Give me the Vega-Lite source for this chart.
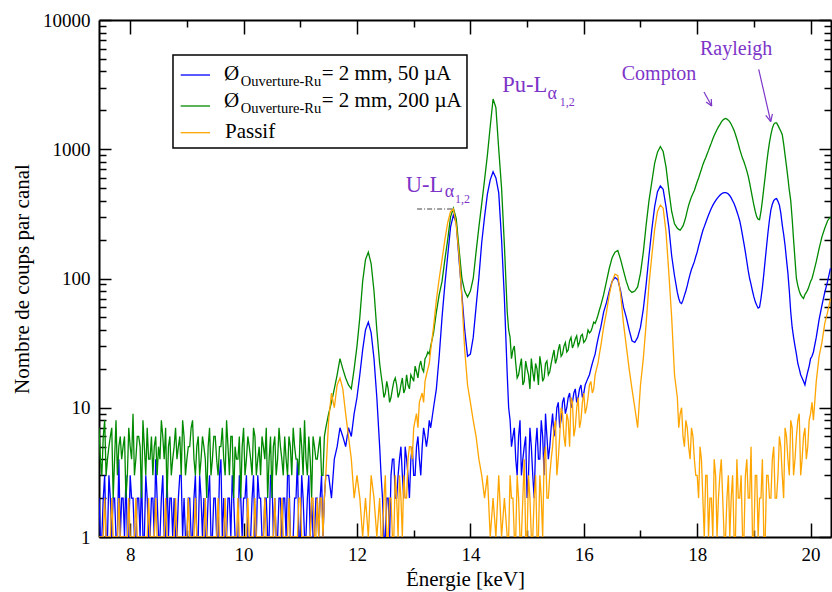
{
  "$schema": "https://vega.github.io/schema/vega-lite/v6.json",
  "width": 732,
  "height": 517,
  "autosize": {"type": "none"},
  "padding": {"left": 99, "top": 20, "right": 1, "bottom": 55},
  "background": "white",
  "config": {
    "view": {"stroke": null},
    "font": "Liberation Serif, Times New Roman, serif",
    "text": {"font": "Liberation Serif, Times New Roman, serif"},
    "axis": {
      "grid": false,
      "domainColor": "black",
      "domainWidth": 2,
      "tickColor": "black",
      "tickWidth": 1.5,
      "labelFont": "Liberation Serif, Times New Roman, serif",
      "labelFontSize": 19,
      "labelColor": "black",
      "labelOverlap": false,
      "labelFlush": false,
      "titleFont": "Liberation Serif, Times New Roman, serif",
      "titleFontSize": 21,
      "titleFontWeight": "normal",
      "titleColor": "black"
    }
  },
  "datasets": {
    "spec": [
      {"e":7.45,"b":2,"g":7,"o":1},{"e":7.50,"b":1,"g":3,"o":1},{"e":7.55,"b":3,"g":8,"o":2},{"e":7.60,"b":1,"g":4,"o":1},{"e":7.65,"b":2,"g":6,"o":1},
      {"e":7.70,"b":2,"g":2,"o":1},{"e":7.75,"b":1,"g":8,"o":1},{"e":7.80,"b":4,"g":5,"o":2},{"e":7.85,"b":2,"g":4,"o":1},{"e":7.90,"b":1,"g":6,"o":1},
      {"e":7.95,"b":1,"g":3,"o":1},{"e":8.00,"b":3,"g":5,"o":1},{"e":8.05,"b":2,"g":9,"o":1},{"e":8.10,"b":1,"g":4,"o":2},{"e":8.15,"b":2,"g":6,"o":1},
      {"e":8.20,"b":3,"g":2,"o":1},{"e":8.25,"b":1,"g":5,"o":1},{"e":8.30,"b":2,"g":7,"o":1},{"e":8.35,"b":1,"g":4,"o":1},{"e":8.40,"b":2,"g":3,"o":1},
      {"e":8.45,"b":4,"g":6,"o":2},{"e":8.50,"b":1,"g":5,"o":1},{"e":8.55,"b":2,"g":8,"o":1},{"e":8.60,"b":1,"g":4,"o":1},{"e":8.65,"b":3,"g":2,"o":1},
      {"e":8.70,"b":2,"g":6,"o":1},{"e":8.75,"b":1,"g":4,"o":1},{"e":8.80,"b":1,"g":7,"o":2},{"e":8.85,"b":2,"g":5,"o":1},{"e":8.90,"b":3,"g":3,"o":1},
      {"e":8.95,"b":2,"g":6,"o":1},{"e":9.00,"b":1,"g":4,"o":1},{"e":9.05,"b":2,"g":5,"o":1},{"e":9.10,"b":1,"g":8,"o":1},{"e":9.15,"b":3,"g":3,"o":2},
      {"e":9.20,"b":1,"g":6,"o":1},{"e":9.25,"b":2,"g":4,"o":1},{"e":9.30,"b":2,"g":5,"o":1},{"e":9.35,"b":1,"g":2,"o":1},{"e":9.40,"b":3,"g":7,"o":1},
      {"e":9.45,"b":1,"g":4,"o":1},{"e":9.50,"b":2,"g":6,"o":1},{"e":9.55,"b":1,"g":3,"o":2},{"e":9.60,"b":4,"g":5,"o":1},{"e":9.65,"b":2,"g":4,"o":1},
      {"e":9.70,"b":1,"g":8,"o":1},{"e":9.75,"b":2,"g":3,"o":1},{"e":9.80,"b":3,"g":6,"o":1},{"e":9.85,"b":1,"g":5,"o":1},{"e":9.90,"b":1,"g":4,"o":2},
      {"e":9.95,"b":2,"g":2,"o":1},{"e":10.00,"b":2,"g":7,"o":1},{"e":10.05,"b":3,"g":4,"o":1},{"e":10.10,"b":1,"g":5,"o":1},{"e":10.15,"b":2,"g":3,"o":1},
      {"e":10.20,"b":1,"g":6,"o":2},{"e":10.25,"b":3,"g":4,"o":1},{"e":10.30,"b":2,"g":3,"o":1},{"e":10.35,"b":1,"g":5,"o":1},{"e":10.40,"b":2,"g":7,"o":1},
      {"e":10.45,"b":1,"g":4,"o":1},{"e":10.50,"b":3,"g":2,"o":1},{"e":10.55,"b":2,"g":6,"o":2},{"e":10.60,"b":1,"g":4,"o":1},{"e":10.65,"b":2,"g":5,"o":1},
      {"e":10.70,"b":2,"g":3,"o":1},{"e":10.75,"b":1,"g":4,"o":1},{"e":10.80,"b":3,"g":6,"o":2},{"e":10.85,"b":1,"g":3,"o":1},{"e":10.90,"b":2,"g":5,"o":1},
      {"e":10.95,"b":4,"g":4,"o":1},{"e":11.00,"b":1,"g":7,"o":2},{"e":11.05,"b":2,"g":3,"o":1},{"e":11.10,"b":1,"g":4,"o":1},{"e":11.15,"b":3,"g":6,"o":1},
      {"e":11.20,"b":2,"g":2,"o":2},{"e":11.25,"b":1,"g":5,"o":1},{"e":11.30,"b":2,"g":4,"o":2},{"e":11.35,"b":2,"g":6,"o":2},{"e":11.40,"b":1,"g":3,"o":1},
      {"e":11.45,"b":3,"g":7,"o":3},
      {"e":11.50,"b":3,"g":9,"o":8},{"e":11.55,"b":2,"g":11,"o":13},{"e":11.60,"b":4,"g":14,"o":10},{"e":11.65,"b":5,"g":18,"o":15},{"e":11.70,"b":7,"g":24,"o":17},
      {"e":11.75,"b":6,"g":20,"o":14},{"e":11.80,"b":5,"g":17,"o":9},{"e":11.85,"b":7,"g":15,"o":6},{"e":11.90,"b":6,"g":14,"o":4},{"e":11.95,"b":9,"g":20,"o":2},
      {"e":12.00,"b":12,"g":30,"o":3},{"e":12.05,"b":18,"g":50,"o":2},{"e":12.10,"b":28,"g":95,"o":1},{"e":12.15,"b":40,"g":140,"o":2},{"e":12.20,"b":46,"g":160,"o":1},
      {"e":12.25,"b":38,"g":130,"o":3},{"e":12.30,"b":24,"g":80,"o":2},{"e":12.35,"b":12,"g":40,"o":1},{"e":12.40,"b":5,"g":22,"o":2},{"e":12.45,"b":2,"g":15,"o":1},
      {"e":12.50,"b":1,"g":13,"o":3},{"e":12.55,"b":2,"g":14,"o":1},{"e":12.60,"b":3,"g":12,"o":2},{"e":12.65,"b":4,"g":16,"o":1},{"e":12.70,"b":2,"g":15,"o":2},
      {"e":12.75,"b":4,"g":13,"o":3},{"e":12.80,"b":3,"g":17,"o":1},{"e":12.85,"b":5,"g":14,"o":2},{"e":12.90,"b":3,"g":15,"o":4},{"e":12.95,"b":4,"g":18,"o":5},
      {"e":13.00,"b":3,"g":16,"o":7},{"e":13.05,"b":5,"g":19,"o":9},{"e":13.10,"b":4,"g":21,"o":11},{"e":13.15,"b":5,"g":20,"o":13},{"e":13.20,"b":6,"g":24,"o":16},
      {"e":13.25,"b":6,"g":27,"o":20},{"e":13.30,"b":7,"g":30,"o":28},{"e":13.35,"b":10,"g":38,"o":42},{"e":13.40,"b":14,"g":55,"o":68},{"e":13.45,"b":25,"g":75,"o":100},
      {"e":13.50,"b":50,"g":95,"o":140},{"e":13.55,"b":90,"g":140,"o":200},{"e":13.60,"b":150,"g":200,"o":270},{"e":13.65,"b":250,"g":300,"o":330},{"e":13.70,"b":310,"g":350,"o":345},
      {"e":13.75,"b":270,"g":290,"o":260},{"e":13.80,"b":140,"g":170,"o":150},{"e":13.85,"b":75,"g":100,"o":70},{"e":13.90,"b":40,"g":80,"o":28},{"e":13.95,"b":25,"g":72,"o":15},
      {"e":14.00,"b":26,"g":80,"o":11},{"e":14.05,"b":35,"g":100,"o":8},{"e":14.10,"b":60,"g":160,"o":6},{"e":14.15,"b":102,"g":250,"o":4},{"e":14.20,"b":190,"g":380,"o":3},
      {"e":14.25,"b":300,"g":580,"o":2},{"e":14.30,"b":450,"g":900,"o":3},{"e":14.35,"b":580,"g":1500,"o":1},{"e":14.40,"b":670,"g":2450,"o":2},{"e":14.45,"b":600,"g":2100,"o":1},
      {"e":14.50,"b":460,"g":1000,"o":3},{"e":14.55,"b":200,"g":500,"o":1},{"e":14.60,"b":70,"g":180,"o":2},{"e":14.65,"b":18,"g":55,"o":1},{"e":14.70,"b":8,"g":35,"o":3},
      {"e":14.75,"b":6,"g":28,"o":2},{"e":14.80,"b":4,"g":22,"o":1},{"e":14.85,"b":6,"g":18,"o":2},{"e":14.90,"b":3,"g":24,"o":1},{"e":14.95,"b":5,"g":16,"o":4},
      {"e":15.00,"b":2,"g":20,"o":1},{"e":15.05,"b":7,"g":14,"o":2},{"e":15.10,"b":3,"g":19,"o":1},{"e":15.15,"b":5,"g":22,"o":3},{"e":15.20,"b":4,"g":15,"o":1},
      {"e":15.25,"b":8,"g":21,"o":2},{"e":15.30,"b":3,"g":17,"o":4},{"e":15.35,"b":6,"g":23,"o":2},{"e":15.40,"b":5,"g":19,"o":3},{"e":15.45,"b":9,"g":25,"o":5},
      {"e":15.50,"b":7,"g":22,"o":8},{"e":15.55,"b":11,"g":28,"o":4},{"e":15.60,"b":8,"g":25,"o":10},{"e":15.65,"b":12,"g":30,"o":6},{"e":15.70,"b":10,"g":27,"o":9},
      {"e":15.75,"b":13,"g":33,"o":5},{"e":15.80,"b":11,"g":29,"o":11},{"e":15.85,"b":14,"g":34,"o":7},{"e":15.90,"b":12,"g":30,"o":12},{"e":15.95,"b":15,"g":36,"o":8},
      {"e":16.00,"b":13,"g":32,"o":13},{"e":16.05,"b":16,"g":35,"o":10},{"e":16.10,"b":18,"g":38,"o":15},{"e":16.15,"b":22,"g":42,"o":13},{"e":16.20,"b":26,"g":45,"o":18},
      {"e":16.25,"b":34,"g":52,"o":22},{"e":16.30,"b":42,"g":62,"o":30},{"e":16.35,"b":55,"g":75,"o":42},{"e":16.40,"b":65,"g":95,"o":55},{"e":16.45,"b":80,"g":120,"o":75},
      {"e":16.50,"b":95,"g":145,"o":95},{"e":16.55,"b":102,"g":160,"o":108},{"e":16.60,"b":98,"g":165,"o":105},{"e":16.65,"b":80,"g":140,"o":75},{"e":16.70,"b":60,"g":115,"o":45},
      {"e":16.75,"b":50,"g":95,"o":30},{"e":16.80,"b":40,"g":82,"o":20},{"e":16.85,"b":33,"g":78,"o":14},{"e":16.90,"b":32,"g":80,"o":10},{"e":16.95,"b":35,"g":86,"o":7},
      {"e":17.00,"b":42,"g":110,"o":15},{"e":17.05,"b":58,"g":160,"o":24},{"e":17.10,"b":90,"g":260,"o":45},{"e":17.15,"b":150,"g":400,"o":90},{"e":17.20,"b":240,"g":560,"o":150},
      {"e":17.25,"b":360,"g":780,"o":240},{"e":17.30,"b":470,"g":950,"o":330},{"e":17.35,"b":520,"g":1050,"o":370},{"e":17.40,"b":490,"g":960,"o":350},{"e":17.45,"b":360,"g":730,"o":230},
      {"e":17.50,"b":250,"g":480,"o":110},{"e":17.55,"b":150,"g":330,"o":50},{"e":17.60,"b":105,"g":265,"o":18},{"e":17.65,"b":78,"g":245,"o":12},{"e":17.70,"b":65,"g":237,"o":9},
      {"e":17.75,"b":68,"g":255,"o":6},{"e":17.80,"b":80,"g":300,"o":8},{"e":17.85,"b":98,"g":370,"o":5},{"e":17.90,"b":118,"g":430,"o":7},{"e":17.95,"b":135,"g":480,"o":4},
      {"e":18.00,"b":160,"g":560,"o":3},{"e":18.05,"b":195,"g":650,"o":5},{"e":18.10,"b":235,"g":760,"o":2},{"e":18.15,"b":270,"g":860,"o":3},{"e":18.20,"b":310,"g":980,"o":1},
      {"e":18.25,"b":350,"g":1120,"o":2},{"e":18.30,"b":385,"g":1280,"o":4},{"e":18.35,"b":415,"g":1420,"o":1},{"e":18.40,"b":440,"g":1550,"o":3},{"e":18.45,"b":458,"g":1680,"o":2},
      {"e":18.50,"b":462,"g":1730,"o":1},{"e":18.55,"b":450,"g":1680,"o":3},{"e":18.60,"b":420,"g":1560,"o":2},{"e":18.65,"b":380,"g":1400,"o":1},{"e":18.70,"b":330,"g":1200,"o":4},
      {"e":18.75,"b":280,"g":1000,"o":2},{"e":18.80,"b":215,"g":850,"o":1},{"e":18.85,"b":160,"g":740,"o":3},{"e":18.90,"b":115,"g":620,"o":2},{"e":18.95,"b":90,"g":480,"o":5},
      {"e":19.00,"b":72,"g":370,"o":1},{"e":19.05,"b":62,"g":300,"o":3},{"e":19.10,"b":60,"g":285,"o":2},{"e":19.15,"b":85,"g":400,"o":4},{"e":19.20,"b":140,"g":620,"o":1},
      {"e":19.25,"b":230,"g":950,"o":3},{"e":19.30,"b":340,"g":1300,"o":2},{"e":19.35,"b":400,"g":1560,"o":5},{"e":19.40,"b":415,"g":1600,"o":2},{"e":19.45,"b":370,"g":1450,"o":6},
      {"e":19.50,"b":260,"g":1300,"o":3},{"e":19.55,"b":180,"g":900,"o":7},{"e":19.60,"b":110,"g":600,"o":4},{"e":19.65,"b":55,"g":400,"o":8},{"e":19.70,"b":35,"g":200,"o":3},
      {"e":19.75,"b":26,"g":100,"o":6},{"e":19.80,"b":20,"g":80,"o":9},{"e":19.85,"b":17,"g":72,"o":4},{"e":19.90,"b":15,"g":75,"o":7},{"e":19.95,"b":19,"g":82,"o":5},
      {"e":20.00,"b":24,"g":95,"o":9},{"e":20.05,"b":27,"g":110,"o":8},{"e":20.10,"b":35,"g":135,"o":16},{"e":20.15,"b":48,"g":170,"o":25},{"e":20.20,"b":62,"g":210,"o":32},
      {"e":20.25,"b":78,"g":245,"o":45},{"e":20.30,"b":95,"g":280,"o":55},{"e":20.35,"b":120,"g":300,"o":70},

      {"e":7.475,"b":1,"g":4,"o":1},{"e":7.525,"b":2,"g":6,"o":1},{"e":7.575,"b":1,"g":3,"o":1},{"e":7.625,"b":3,"g":5,"o":1},{"e":7.675,"b":1,"g":7,"o":2},
      {"e":7.725,"b":2,"g":4,"o":1},{"e":7.775,"b":1,"g":3,"o":1},{"e":7.825,"b":1,"g":6,"o":1},{"e":7.875,"b":2,"g":5,"o":1},{"e":7.925,"b":3,"g":2,"o":1},
      {"e":7.975,"b":1,"g":7,"o":2},{"e":8.025,"b":2,"g":4,"o":1},{"e":8.075,"b":1,"g":3,"o":1},{"e":8.125,"b":2,"g":6,"o":1},{"e":8.175,"b":1,"g":5,"o":1},
      {"e":8.225,"b":1,"g":8,"o":1},{"e":8.275,"b":3,"g":3,"o":1},{"e":8.325,"b":1,"g":4,"o":2},{"e":8.375,"b":2,"g":6,"o":1},{"e":8.425,"b":1,"g":5,"o":1},
      {"e":8.475,"b":2,"g":3,"o":1},{"e":8.525,"b":1,"g":4,"o":1},{"e":8.575,"b":3,"g":6,"o":1},{"e":8.625,"b":1,"g":7,"o":2},{"e":8.675,"b":1,"g":5,"o":1},
      {"e":8.725,"b":2,"g":3,"o":1},{"e":8.775,"b":2,"g":5,"o":1},{"e":8.825,"b":1,"g":4,"o":1},{"e":8.875,"b":3,"g":6,"o":1},{"e":8.925,"b":1,"g":8,"o":1},
      {"e":8.975,"b":1,"g":3,"o":1},{"e":9.025,"b":2,"g":5,"o":2},{"e":9.075,"b":1,"g":7,"o":1},{"e":9.125,"b":2,"g":4,"o":1},{"e":9.175,"b":1,"g":5,"o":1},
      {"e":9.225,"b":3,"g":3,"o":1},{"e":9.275,"b":1,"g":6,"o":1},{"e":9.325,"b":1,"g":4,"o":2},{"e":9.375,"b":2,"g":5,"o":1},{"e":9.425,"b":1,"g":3,"o":1},
      {"e":9.475,"b":2,"g":6,"o":1},{"e":9.525,"b":1,"g":4,"o":1},{"e":9.575,"b":3,"g":5,"o":1},{"e":9.625,"b":1,"g":7,"o":1},{"e":9.675,"b":1,"g":3,"o":2},
      {"e":9.725,"b":2,"g":5,"o":1},{"e":9.775,"b":1,"g":6,"o":1},{"e":9.825,"b":2,"g":2,"o":1},{"e":9.875,"b":1,"g":4,"o":1},{"e":9.925,"b":3,"g":6,"o":1},
      {"e":9.975,"b":1,"g":5,"o":1},{"e":10.025,"b":2,"g":3,"o":1},{"e":10.075,"b":1,"g":6,"o":2},{"e":10.125,"b":1,"g":4,"o":1},{"e":10.175,"b":3,"g":7,"o":1},
      {"e":10.225,"b":1,"g":3,"o":1},{"e":10.275,"b":2,"g":5,"o":1},{"e":10.325,"b":1,"g":6,"o":1},{"e":10.375,"b":2,"g":4,"o":2},{"e":10.425,"b":1,"g":2,"o":1},
      {"e":10.475,"b":3,"g":6,"o":1},{"e":10.525,"b":1,"g":5,"o":1},{"e":10.575,"b":1,"g":3,"o":1},{"e":10.625,"b":2,"g":7,"o":1},{"e":10.675,"b":1,"g":4,"o":2},
      {"e":10.725,"b":2,"g":6,"o":1},{"e":10.775,"b":3,"g":3,"o":1},{"e":10.825,"b":1,"g":5,"o":1},{"e":10.875,"b":1,"g":7,"o":1},{"e":10.925,"b":2,"g":4,"o":1},
      {"e":10.975,"b":1,"g":3,"o":2},{"e":11.025,"b":3,"g":5,"o":1},{"e":11.075,"b":1,"g":8,"o":1},{"e":11.125,"b":2,"g":3,"o":1},{"e":11.175,"b":1,"g":4,"o":1},
      {"e":11.225,"b":1,"g":6,"o":2},{"e":11.275,"b":2,"g":4,"o":1},{"e":11.325,"b":1,"g":5,"o":1},{"e":11.375,"b":3,"g":3,"o":2},{"e":11.425,"b":2,"g":6,"o":2},

      {"e":12.425,"b":3,"g":18,"o":1},{"e":12.475,"b":1,"g":12,"o":2},{"e":12.525,"b":2,"g":16,"o":1},{"e":12.575,"b":1,"g":11,"o":2},{"e":12.625,"b":4,"g":14,"o":1},
      {"e":12.675,"b":2,"g":17,"o":3},{"e":12.725,"b":3,"g":12,"o":1},{"e":12.775,"b":5,"g":15,"o":2},{"e":12.825,"b":2,"g":13,"o":3},{"e":12.875,"b":4,"g":18,"o":2},
      {"e":12.925,"b":2,"g":14,"o":5},{"e":12.975,"b":5,"g":17,"o":4},{"e":13.025,"b":3,"g":21,"o":8},{"e":13.075,"b":6,"g":17,"o":7},{"e":13.125,"b":3,"g":23,"o":12},
      {"e":13.175,"b":7,"g":19,"o":11},{"e":13.225,"b":5,"g":25,"o":18},{"e":13.275,"b":8,"g":26,"o":22},

      {"e":14.675,"b":10,"g":40,"o":1},{"e":14.725,"b":5,"g":24,"o":2},{"e":14.775,"b":7,"g":30,"o":1},{"e":14.825,"b":3,"g":17,"o":3},{"e":14.875,"b":8,"g":21,"o":1},
      {"e":14.925,"b":4,"g":15,"o":2},{"e":14.975,"b":6,"g":23,"o":1},{"e":15.025,"b":3,"g":18,"o":3},{"e":15.075,"b":5,"g":24,"o":1},{"e":15.125,"b":2,"g":16,"o":2},
      {"e":15.175,"b":7,"g":20,"o":1},{"e":15.225,"b":4,"g":25,"o":3},{"e":15.275,"b":6,"g":16,"o":1},{"e":15.325,"b":9,"g":22,"o":5},{"e":15.375,"b":4,"g":18,"o":2},
      {"e":15.425,"b":7,"g":22,"o":4},{"e":15.475,"b":6,"g":28,"o":7},{"e":15.525,"b":10,"g":24,"o":3},{"e":15.575,"b":7,"g":31,"o":6},{"e":15.625,"b":11,"g":26,"o":9},
      {"e":15.675,"b":9,"g":32,"o":5},{"e":15.725,"b":12,"g":28,"o":8},{"e":15.775,"b":10,"g":35,"o":12},{"e":15.825,"b":13,"g":31,"o":6},{"e":15.875,"b":11,"g":36,"o":10},
      {"e":15.925,"b":14,"g":32,"o":7},{"e":15.975,"b":12,"g":37,"o":11},{"e":16.025,"b":15,"g":33,"o":9},{"e":16.075,"b":17,"g":40,"o":12},{"e":16.125,"b":20,"g":39,"o":16},
      {"e":16.175,"b":24,"g":46,"o":14},{"e":16.225,"b":30,"g":48,"o":20},{"e":16.275,"b":38,"g":57,"o":26},

      {"e":17.675,"b":70,"g":240,"o":7},{"e":17.725,"b":64,"g":245,"o":10},{"e":17.775,"b":74,"g":275,"o":5},{"e":17.825,"b":88,"g":335,"o":7},{"e":17.875,"b":108,"g":400,"o":4},
      {"e":17.925,"b":126,"g":455,"o":6},{"e":17.975,"b":148,"g":520,"o":3},{"e":18.025,"b":178,"g":600,"o":2},{"e":18.075,"b":215,"g":700,"o":4},{"e":18.125,"b":252,"g":810,"o":1},
      {"e":18.175,"b":290,"g":920,"o":3},{"e":18.225,"b":330,"g":1050,"o":2},{"e":18.275,"b":368,"g":1200,"o":1},{"e":18.325,"b":400,"g":1350,"o":3},{"e":18.375,"b":428,"g":1490,"o":2},
      {"e":18.425,"b":450,"g":1620,"o":4},{"e":18.475,"b":462,"g":1710,"o":1},{"e":18.525,"b":458,"g":1710,"o":2},{"e":18.575,"b":437,"g":1630,"o":1},{"e":18.625,"b":400,"g":1480,"o":3},
      {"e":18.675,"b":356,"g":1300,"o":1},{"e":18.725,"b":305,"g":1100,"o":2},{"e":18.775,"b":248,"g":920,"o":3},{"e":18.825,"b":186,"g":800,"o":1},{"e":18.875,"b":136,"g":680,"o":4},
      {"e":18.925,"b":100,"g":550,"o":2},{"e":18.975,"b":80,"g":420,"o":1},{"e":19.025,"b":66,"g":330,"o":3},{"e":19.075,"b":59,"g":288,"o":1},{"e":19.125,"b":70,"g":330,"o":2},
      {"e":19.175,"b":108,"g":500,"o":1},{"e":19.225,"b":180,"g":780,"o":3},{"e":19.275,"b":285,"g":1130,"o":2},{"e":19.325,"b":375,"g":1450,"o":4},{"e":19.375,"b":412,"g":1600,"o":2},
      {"e":19.425,"b":395,"g":1530,"o":3},{"e":19.475,"b":320,"g":1380,"o":5},{"e":19.525,"b":220,"g":1100,"o":2},{"e":19.575,"b":140,"g":740,"o":6},{"e":19.625,"b":80,"g":480,"o":3},
      {"e":19.675,"b":42,"g":290,"o":7},{"e":19.725,"b":30,"g":140,"o":4},{"e":19.775,"b":22,"g":88,"o":8},{"e":19.825,"b":18,"g":75,"o":3},{"e":19.875,"b":16,"g":70,"o":6},
      {"e":19.925,"b":17,"g":78,"o":4},{"e":19.975,"b":21,"g":88,"o":8},{"e":20.025,"b":25,"g":100,"o":11}
    ],
    "labels": [
      {"e":12.86,"v":467,"t":"U-L","k":"ann"},
      {"e":13.55,"v":427,"t":"α","k":"sub1"},
      {"e":13.73,"v":384,"t":"1,2","k":"sub2"},
      {"e":14.56,"v":2774,"t":"Pu-L","k":"ann"},
      {"e":15.36,"v":2449,"t":"α","k":"sub1"},
      {"e":15.575,"v":2161,"t":"1,2","k":"sub2"},
      {"e":16.67,"v":3435,"t":"Compton","k":"name"},
      {"e":18.05,"v":5358,"t":"Rayleigh","k":"name"},
      {"e":9.655,"v":3435,"t":"Ø","k":"leg"},
      {"e":9.949,"v":3102,"t":"Ouverture-Ru","k":"legsub"},
      {"e":11.378,"v":3435,"t":"= 2 mm, 50 µA","k":"leg"},
      {"e":9.655,"v":2134,"t":"Ø","k":"leg"},
      {"e":9.949,"v":1897,"t":"Ouverture-Ru","k":"legsub"},
      {"e":11.378,"v":2134,"t":"= 2 mm, 200 µA","k":"leg"},
      {"e":9.672,"v":1222,"t":"Passif","k":"leg"}
    ],
    "segs": [
      {"e":18.12,"e2":18.256,"v":2774,"v2":2161,"k":"arrow"},
      {"e":18.247,"e2":18.256,"v":2449,"v2":2161,"k":"arrow"},
      {"e":18.157,"e2":18.256,"v":2324,"v2":2161,"k":"arrow"},
      {"e":19.085,"e2":19.297,"v":4155,"v2":1634,"k":"arrow"},
      {"e":19.327,"e2":19.297,"v":1877,"v2":1634,"k":"arrow"},
      {"e":19.21,"e2":19.297,"v":1828,"v2":1634,"k":"arrow"},
      {"e":13.06,"e2":13.68,"v":345,"v2":345,"k":"dash"},
      {"e":8.891,"e2":9.408,"v":3753,"v2":3753,"k":"blue"},
      {"e":8.891,"e2":9.408,"v":2161,"v2":2161,"k":"green"},
      {"e":8.891,"e2":9.408,"v":1343,"v2":1343,"k":"orange"}
    ],
    "box": [
      {"e":8.755,"e2":13.94,"v":5360,"v2":1023}
    ]
  },
  "resolve": {"axis": {"x": "independent", "y": "independent"}},
  "layer": [
    {
      "data": {"name": "spec"},
      "mark": {"type": "line", "color": "#0000ff", "strokeWidth": 1.3, "clip": true},
      "encoding": {
        "x": {"field": "e", "type": "quantitative",
          "scale": {"domain": [7.45, 20.36], "nice": false, "zero": false},
          "axis": {
            "orient": "bottom",
            "values": [8, 9, 10, 11, 12, 13, 14, 15, 16, 17, 18, 19, 20],
            "labelExpr": "datum.value % 2 === 0 ? datum.label : ''",
            "tickSize": {"condition": {"test": "datum.value % 2 === 0", "value": -14}, "value": -7},
            "labelPadding": 22,
            "title": "Énergie [keV]",
            "titlePadding": -3
          }},
        "y": {"field": "b", "type": "quantitative",
          "scale": {"type": "log", "domain": [1, 10000], "nice": false, "clamp": true},
          "axis": {
            "orient": "left",
            "values": [1,2,3,4,5,6,7,8,9,10,20,30,40,50,60,70,80,90,100,200,300,400,500,600,700,800,900,1000,2000,3000,4000,5000,6000,7000,8000,9000,10000],
            "format": "d",
            "labelExpr": "(datum.value === 1 || datum.value === 10 || datum.value === 100 || datum.value === 1000 || datum.value === 10000) ? datum.label : ''",
            "tickSize": {"condition": {"test": "datum.value === 1 || datum.value === 10 || datum.value === 100 || datum.value === 1000 || datum.value === 10000", "value": -12}, "value": -7},
            "labelPadding": 21,
            "title": "Nombre de coups par canal",
            "titlePadding": 10
          }}
      }
    },
    {
      "data": {"name": "spec"},
      "mark": {"type": "line", "color": "#008a00", "strokeWidth": 1.3, "clip": true},
      "encoding": {
        "x": {"field": "e", "type": "quantitative",
          "scale": {"domain": [7.45, 20.36], "nice": false, "zero": false},
          "axis": {
            "orient": "top",
            "values": [8, 9, 10, 11, 12, 13, 14, 15, 16, 17, 18, 19, 20],
            "labels": false,
            "tickSize": {"condition": {"test": "datum.value % 2 === 0", "value": -14}, "value": -7},
            "title": null
          }},
        "y": {"field": "g", "type": "quantitative",
          "scale": {"type": "log", "domain": [1, 10000], "nice": false, "clamp": true},
          "axis": {
            "orient": "right",
            "values": [1,2,3,4,5,6,7,8,9,10,20,30,40,50,60,70,80,90,100,200,300,400,500,600,700,800,900,1000,2000,3000,4000,5000,6000,7000,8000,9000,10000],
            "labels": false,
            "tickSize": {"condition": {"test": "datum.value === 1 || datum.value === 10 || datum.value === 100 || datum.value === 1000 || datum.value === 10000", "value": -12}, "value": -7},
            "title": null
          }}
      }
    },
    {
      "data": {"name": "spec"},
      "mark": {"type": "line", "color": "#ffa500", "strokeWidth": 1.3, "clip": true},
      "encoding": {
        "x": {"field": "e", "type": "quantitative", "scale": {"domain": [7.45, 20.36], "nice": false, "zero": false}, "axis": null},
        "y": {"field": "o", "type": "quantitative", "scale": {"type": "log", "domain": [1, 10000], "nice": false, "clamp": true}, "axis": null}
      }
    },
    {
      "data": {"name": "segs"},
      "transform": [{"filter": "datum.k === 'dash'"}],
      "mark": {"type": "rule", "color": "#444444", "strokeWidth": 1.2, "strokeDash": [5, 2, 1, 2]},
      "encoding": {
        "x": {"field": "e", "type": "quantitative", "scale": {"domain": [7.45, 20.36], "nice": false, "zero": false}, "axis": null},
        "x2": {"field": "e2"},
        "y": {"field": "v", "type": "quantitative", "scale": {"type": "log", "domain": [1, 10000], "nice": false, "clamp": true}, "axis": null},
        "y2": {"field": "v2"}
      }
    },
    {
      "data": {"name": "segs"},
      "transform": [{"filter": "datum.k === 'arrow'"}],
      "mark": {"type": "rule", "color": "#7d35c8", "strokeWidth": 1.2},
      "encoding": {
        "x": {"field": "e", "type": "quantitative", "scale": {"domain": [7.45, 20.36], "nice": false, "zero": false}, "axis": null},
        "x2": {"field": "e2"},
        "y": {"field": "v", "type": "quantitative", "scale": {"type": "log", "domain": [1, 10000], "nice": false, "clamp": true}, "axis": null},
        "y2": {"field": "v2"}
      }
    },
    {
      "data": {"name": "box"},
      "mark": {"type": "rect", "fill": "white", "stroke": "black", "strokeWidth": 1.5},
      "encoding": {
        "x": {"field": "e", "type": "quantitative", "scale": {"domain": [7.45, 20.36], "nice": false, "zero": false}, "axis": null},
        "x2": {"field": "e2"},
        "y": {"field": "v", "type": "quantitative", "scale": {"type": "log", "domain": [1, 10000], "nice": false, "clamp": true}, "axis": null},
        "y2": {"field": "v2"}
      }
    },
    {
      "data": {"name": "segs"},
      "transform": [{"filter": "datum.k === 'blue' || datum.k === 'green' || datum.k === 'orange'"}],
      "mark": {"type": "rule", "strokeWidth": 1.3},
      "encoding": {
        "x": {"field": "e", "type": "quantitative", "scale": {"domain": [7.45, 20.36], "nice": false, "zero": false}, "axis": null},
        "x2": {"field": "e2"},
        "y": {"field": "v", "type": "quantitative", "scale": {"type": "log", "domain": [1, 10000], "nice": false, "clamp": true}, "axis": null},
        "y2": {"field": "v2"},
        "color": {"field": "k", "type": "nominal", "scale": {"domain": ["blue", "green", "orange"], "range": ["#0000ff", "#008a00", "#ffa500"]}, "legend": null}
      }
    },
    {
      "data": {"name": "labels"},
      "transform": [{"filter": "datum.k === 'ann'"}],
      "mark": {"type": "text", "align": "left", "baseline": "alphabetic", "fontSize": 22.5, "color": "#7d35c8"},
      "encoding": {
        "x": {"field": "e", "type": "quantitative", "scale": {"domain": [7.45, 20.36], "nice": false, "zero": false}, "axis": null},
        "y": {"field": "v", "type": "quantitative", "scale": {"type": "log", "domain": [1, 10000], "nice": false, "clamp": true}, "axis": null},
        "text": {"field": "t"}
      }
    },
    {
      "data": {"name": "labels"},
      "transform": [{"filter": "datum.k === 'sub1'"}],
      "mark": {"type": "text", "align": "left", "baseline": "alphabetic", "fontSize": 18, "color": "#7d35c8"},
      "encoding": {
        "x": {"field": "e", "type": "quantitative", "scale": {"domain": [7.45, 20.36], "nice": false, "zero": false}, "axis": null},
        "y": {"field": "v", "type": "quantitative", "scale": {"type": "log", "domain": [1, 10000], "nice": false, "clamp": true}, "axis": null},
        "text": {"field": "t"}
      }
    },
    {
      "data": {"name": "labels"},
      "transform": [{"filter": "datum.k === 'sub2'"}],
      "mark": {"type": "text", "align": "left", "baseline": "alphabetic", "fontSize": 12, "color": "#7d35c8"},
      "encoding": {
        "x": {"field": "e", "type": "quantitative", "scale": {"domain": [7.45, 20.36], "nice": false, "zero": false}, "axis": null},
        "y": {"field": "v", "type": "quantitative", "scale": {"type": "log", "domain": [1, 10000], "nice": false, "clamp": true}, "axis": null},
        "text": {"field": "t"}
      }
    },
    {
      "data": {"name": "labels"},
      "transform": [{"filter": "datum.k === 'name'"}],
      "mark": {"type": "text", "align": "left", "baseline": "alphabetic", "fontSize": 20, "color": "#7d35c8"},
      "encoding": {
        "x": {"field": "e", "type": "quantitative", "scale": {"domain": [7.45, 20.36], "nice": false, "zero": false}, "axis": null},
        "y": {"field": "v", "type": "quantitative", "scale": {"type": "log", "domain": [1, 10000], "nice": false, "clamp": true}, "axis": null},
        "text": {"field": "t"}
      }
    },
    {
      "data": {"name": "labels"},
      "transform": [{"filter": "datum.k === 'leg'"}],
      "mark": {"type": "text", "align": "left", "baseline": "alphabetic", "fontSize": 21, "color": "black"},
      "encoding": {
        "x": {"field": "e", "type": "quantitative", "scale": {"domain": [7.45, 20.36], "nice": false, "zero": false}, "axis": null},
        "y": {"field": "v", "type": "quantitative", "scale": {"type": "log", "domain": [1, 10000], "nice": false, "clamp": true}, "axis": null},
        "text": {"field": "t"}
      }
    },
    {
      "data": {"name": "labels"},
      "transform": [{"filter": "datum.k === 'legsub'"}],
      "mark": {"type": "text", "align": "left", "baseline": "alphabetic", "fontSize": 14.5, "color": "black"},
      "encoding": {
        "x": {"field": "e", "type": "quantitative", "scale": {"domain": [7.45, 20.36], "nice": false, "zero": false}, "axis": null},
        "y": {"field": "v", "type": "quantitative", "scale": {"type": "log", "domain": [1, 10000], "nice": false, "clamp": true}, "axis": null},
        "text": {"field": "t"}
      }
    }
  ]
}
